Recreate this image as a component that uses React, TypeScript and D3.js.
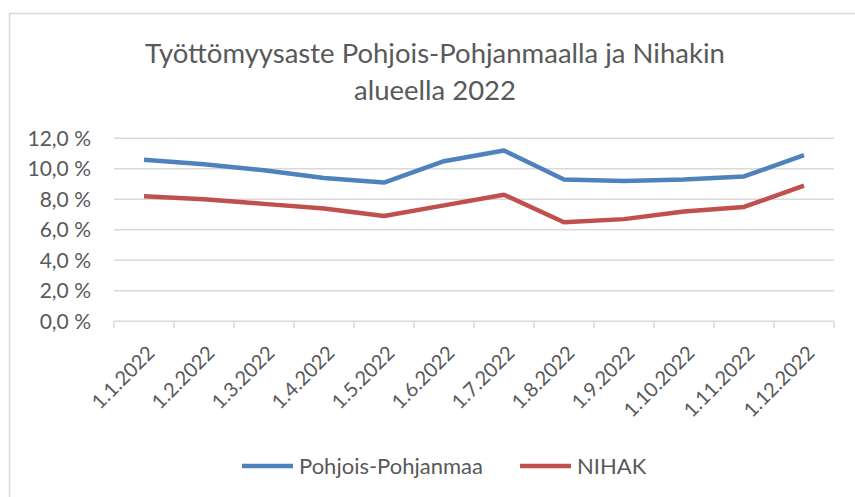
import React, { useRef, useEffect } from 'react';
import * as d3 from 'd3';

// Months shown on the x axis
const months = [
  '1.1.2022', '1.2.2022', '1.3.2022', '1.4.2022', '1.5.2022', '1.6.2022',
  '1.7.2022', '1.8.2022', '1.9.2022', '1.10.2022', '1.11.2022', '1.12.2022',
];

// Unemployment rate, percent
const pohjoisPohjanmaa = [10.6, 10.3, 9.9, 9.4, 9.1, 10.5, 11.2, 9.3, 9.2, 9.3, 9.5, 10.9];
const nihak = [8.2, 8.0, 7.7, 7.4, 6.9, 7.6, 8.3, 6.5, 6.7, 7.2, 7.5, 8.9];

const yTicks = [0, 2, 4, 6, 8, 10, 12];

const seriesNames = ['Pohjois-Pohjanmaa', 'NIHAK'];
const seriesColors = ['#4f81bd', '#c0504d'];

const titleLines = ['Työttömyysaste Pohjois-Pohjanmaalla ja Nihakin', 'alueella 2022'];

const W = 855;
const H = 497;
const FONT = 'Lato, "Open Sans", sans-serif';
const TEXT = '#595959';
const GRID = '#d9d9d9';

const App = () => {
  const ref = useRef<SVGSVGElement>(null);

  useEffect(() => {
    const svg = d3.select(ref.current);
    svg.selectAll('*').remove();

    // chart border (runs off the right and bottom of the picture)
    svg.append('rect')
      .attr('x', 9.5).attr('y', 13.5)
      .attr('width', 870).attr('height', 520)
      .attr('fill', 'white')
      .attr('stroke', GRID)
      .attr('stroke-width', 1.5);

    // title
    svg.append('g').selectAll('text')
      .data(titleLines)
      .join('text')
      .attr('x', 435)
      .attr('y', (d, i) => 63 + i * 37)
      .attr('text-anchor', 'middle')
      .attr('font-family', FONT)
      .attr('font-size', 27.5)
      .attr('fill', TEXT)
      .text(d => d);

    // scales
    const x = d3.scaleBand().domain(months).range([114, 834]);
    const y = d3.scaleLinear().domain([0, 12]).range([321.3, 138.3]);

    // gridlines
    svg.append('g').selectAll('line')
      .data(yTicks.filter(t => t > 0))
      .join('line')
      .attr('x1', 114).attr('x2', 834)
      .attr('y1', d => y(d)).attr('y2', d => y(d))
      .attr('stroke', GRID)
      .attr('stroke-width', 1.5);

    // y labels
    svg.append('g').selectAll('text')
      .data(yTicks)
      .join('text')
      .attr('x', 91)
      .attr('y', d => y(d))
      .attr('dy', '0.35em')
      .attr('text-anchor', 'end')
      .attr('font-family', FONT)
      .attr('font-size', 21)
      .attr('fill', TEXT)
      .text(d => d3.format('.1f')(d).replace('.', ',') + ' %');

    // x axis line and ticks
    const base = y(0);
    svg.append('line')
      .attr('x1', 114).attr('x2', 834)
      .attr('y1', base).attr('y2', base)
      .attr('stroke', GRID)
      .attr('stroke-width', 1.5);

    const tickXs = months.map(m => x(m) as number).concat([834]);
    svg.append('g').selectAll('line')
      .data(tickXs)
      .join('line')
      .attr('x1', d => d).attr('x2', d => d)
      .attr('y1', base).attr('y2', base + 7)
      .attr('stroke', GRID)
      .attr('stroke-width', 1.5);

    // x labels, rotated
    svg.append('g').selectAll('text')
      .data(months)
      .join('text')
      .attr('transform', d => `translate(${(x(d) as number) + x.bandwidth() / 2 + 12},${base + 33}) rotate(-45)`)
      .attr('text-anchor', 'end')
      .attr('font-family', FONT)
      .attr('font-size', 20)
      .attr('fill', TEXT)
      .text(d => d);

    // lines
    const line = d3.line<number>()
      .x((d, i) => (x(months[i]) as number) + x.bandwidth() / 2)
      .y(d => y(d));

    [pohjoisPohjanmaa, nihak].forEach((values, i) => {
      svg.append('path')
        .datum(values)
        .attr('fill', 'none')
        .attr('stroke', seriesColors[i])
        .attr('stroke-width', 4.5)
        .attr('stroke-linejoin', 'round')
        .attr('d', line);
    });

    // legend
    const legendX = [242, 520];
    seriesNames.forEach((name, i) => {
      const g = svg.append('g').attr('transform', `translate(${legendX[i]},466)`);
      g.append('line')
        .attr('x1', 0).attr('x2', 51)
        .attr('stroke', seriesColors[i])
        .attr('stroke-width', 4.5);
      g.append('text')
        .attr('x', 57)
        .attr('dy', '0.35em')
        .attr('font-family', FONT)
        .attr('font-size', 22)
        .attr('fill', TEXT)
        .text(name);
    });
  }, []);

  return (
    <svg
      ref={ref}
      width={W}
      height={H}
      style={{ position: 'fixed', left: 0, top: 0, background: 'white' }}
    ></svg>
  );
};

export default App;
